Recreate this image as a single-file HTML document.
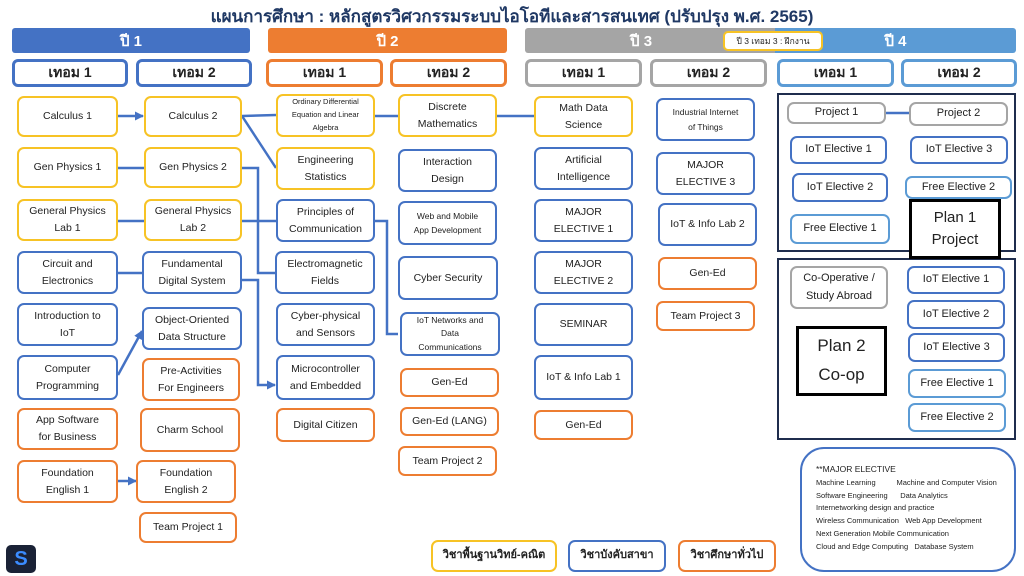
<!DOCTYPE html>
<html><head><meta charset="utf-8"><style>
*{box-sizing:border-box;margin:0;padding:0}
body{width:1024px;height:576px;background:#fff;position:relative;overflow:hidden;font-family:"Liberation Sans","DejaVu Sans",sans-serif;color:#222}
.b{position:absolute;border:2.5px solid #4472c4;border-radius:7px;display:flex;align-items:center;justify-content:center;text-align:center;font-size:10.5px;line-height:1.6;background:#fff}
.y{border-color:#f7c325}.o{border-color:#ed7d31}.g{border-color:#a5a5a5}.l{border-color:#5b9bd5}.k{border-color:#000;border-radius:0;font-size:15px}
.bar{position:absolute;top:28px;height:25px;color:#fff;font-weight:bold;font-size:15px;display:flex;align-items:center;justify-content:center;border-radius:3px}
.h{position:absolute;top:59px;height:28px;border:3px solid #4472c4;border-radius:6px;display:flex;align-items:center;justify-content:center;font-weight:bold;font-size:14px;background:#fff}
.s{font-size:8.5px;line-height:1.7}
svg{position:absolute;left:0;top:0}
</style></head><body>
<div style="position:absolute;left:0;width:1024px;top:3px;text-align:center;font-weight:bold;font-size:17px;color:#1f3864">แผนการศึกษา : หลักสูตรวิศวกรรมระบบไอโอทีและสารสนเทศ (ปรับปรุง พ.ศ. 2565)</div>
<div class="bar" style="left:12px;width:238px;background:#4472c4">ปี 1</div>
<div class="bar" style="left:268px;width:239px;background:#ed7d31">ปี 2</div>
<div class="bar" style="left:525px;width:260px;background:#a5a5a5;border-radius:3px 0 0 3px;justify-content:flex-start;padding-left:105px">ปี 3</div>
<div class="bar" style="left:775px;width:241px;background:#5b9bd5;border-radius:0 3px 3px 0">ปี 4</div>
<div style="position:absolute;left:723px;top:31px;width:100px;height:20px;border:2px solid #f7c325;border-radius:5px;background:#fff;font-size:8.5px;display:flex;align-items:center;justify-content:center">ปี 3 เทอม 3 : ฝึกงาน</div>
<div class="h" style="left:12px;width:116px">เทอม 1</div>
<div class="h" style="left:136px;width:116px">เทอม 2</div>
<div class="h" style="left:266px;width:117px;border-color:#ed7d31">เทอม 1</div>
<div class="h" style="left:390px;width:117px;border-color:#ed7d31">เทอม 2</div>
<div class="h" style="left:525px;width:117px;border-color:#a5a5a5">เทอม 1</div>
<div class="h" style="left:650px;width:117px;border-color:#a5a5a5">เทอม 2</div>
<div class="h" style="left:777px;width:117px;border-color:#5b9bd5">เทอม 1</div>
<div class="h" style="left:901px;width:116px;border-color:#5b9bd5">เทอม 2</div>

<svg width="1024" height="576">
<defs><marker id="a" markerUnits="userSpaceOnUse" markerWidth="9" markerHeight="9" refX="8" refY="4.5" orient="auto"><path d="M0,0L9,4.5L0,9z" fill="#4472c4"/></marker></defs>
<g stroke="#4472c4" stroke-width="2.5" fill="none">
<line x1="118" y1="116" x2="143" y2="116" marker-end="url(#a)"/>
<line x1="242" y1="116" x2="276" y2="115"/>
<line x1="242" y1="116" x2="276" y2="168"/>
<line x1="375" y1="116" x2="398" y2="116"/>
<line x1="497" y1="116" x2="534" y2="116"/>
<line x1="118" y1="168" x2="144" y2="168"/>
<polyline points="242,168 258,168 258,273 276,273"/>
<line x1="118" y1="221" x2="144" y2="221"/>
<line x1="242" y1="221" x2="276" y2="221"/>
<polyline points="375,221 387,221 387,334 398,334"/>
<line x1="118" y1="273" x2="144" y2="273"/>
<polyline points="242,280 258,280 258,385 275,385" marker-end="url(#a)"/>
<line x1="118" y1="375" x2="142" y2="331" marker-end="url(#a)"/>
<line x1="118" y1="481" x2="136" y2="481" marker-end="url(#a)"/>
<line x1="886" y1="113" x2="909" y2="113"/>
</g></svg>

<!-- col1 -->
<div class="b y" style="left:17px;top:96px;width:101px;height:41px">Calculus 1</div>
<div class="b y" style="left:17px;top:147px;width:101px;height:41px">Gen Physics 1</div>
<div class="b y" style="left:17px;top:199px;width:101px;height:42px">General Physics<br>Lab 1</div>
<div class="b" style="left:17px;top:251px;width:101px;height:43px">Circuit and<br>Electronics</div>
<div class="b" style="left:17px;top:303px;width:101px;height:43px">Introduction to<br>IoT</div>
<div class="b" style="left:17px;top:355px;width:101px;height:45px">Computer<br>Programming</div>
<div class="b o" style="left:17px;top:408px;width:101px;height:42px">App Software<br>for Business</div>
<div class="b o" style="left:17px;top:460px;width:101px;height:43px">Foundation<br>English 1</div>
<!-- col2 -->
<div class="b y" style="left:144px;top:96px;width:98px;height:41px">Calculus 2</div>
<div class="b y" style="left:144px;top:147px;width:98px;height:41px">Gen Physics 2</div>
<div class="b y" style="left:144px;top:199px;width:98px;height:42px">General Physics<br>Lab 2</div>
<div class="b" style="left:142px;top:251px;width:100px;height:43px">Fundamental<br>Digital System</div>
<div class="b" style="left:142px;top:307px;width:100px;height:43px">Object-Oriented<br>Data Structure</div>
<div class="b o" style="left:142px;top:358px;width:98px;height:43px">Pre-Activities<br>For Engineers</div>
<div class="b o" style="left:140px;top:408px;width:100px;height:44px">Charm School</div>
<div class="b o" style="left:136px;top:460px;width:100px;height:43px">Foundation<br>English 2</div>
<div class="b o" style="left:139px;top:512px;width:98px;height:31px">Team Project 1</div>
<!-- col3 -->
<div class="b y s" style="left:276px;top:94px;width:99px;height:43px;font-size:7.5px">Ordinary Differential<br>Equation and Linear<br>Algebra</div>
<div class="b y" style="left:276px;top:147px;width:99px;height:43px">Engineering<br>Statistics</div>
<div class="b" style="left:276px;top:199px;width:99px;height:43px">Principles of<br>Communication</div>
<div class="b" style="left:275px;top:251px;width:100px;height:43px">Electromagnetic<br>Fields</div>
<div class="b" style="left:276px;top:303px;width:99px;height:43px">Cyber-physical<br>and Sensors</div>
<div class="b" style="left:276px;top:355px;width:99px;height:45px">Microcontroller<br>and Embedded</div>
<div class="b o" style="left:276px;top:408px;width:99px;height:34px">Digital Citizen</div>
<!-- col4 -->
<div class="b y" style="left:398px;top:94px;width:99px;height:43px">Discrete<br>Mathematics</div>
<div class="b" style="left:398px;top:149px;width:99px;height:43px">Interaction<br>Design</div>
<div class="b s" style="left:398px;top:201px;width:99px;height:44px">Web and Mobile<br>App Development</div>
<div class="b" style="left:398px;top:256px;width:100px;height:44px">Cyber Security</div>
<div class="b s" style="left:400px;top:312px;width:100px;height:44px;line-height:1.6">IoT Networks and<br>Data<br>Communications</div>
<div class="b o" style="left:400px;top:368px;width:99px;height:29px">Gen-Ed</div>
<div class="b o" style="left:400px;top:407px;width:99px;height:29px">Gen-Ed (LANG)</div>
<div class="b o" style="left:398px;top:446px;width:99px;height:30px">Team Project 2</div>
<!-- col5 -->
<div class="b y" style="left:534px;top:96px;width:99px;height:41px">Math Data<br>Science</div>
<div class="b" style="left:534px;top:147px;width:99px;height:43px">Artificial<br>Intelligence</div>
<div class="b" style="left:534px;top:199px;width:99px;height:43px">MAJOR<br>ELECTIVE 1</div>
<div class="b" style="left:534px;top:251px;width:99px;height:43px">MAJOR<br>ELECTIVE 2</div>
<div class="b" style="left:534px;top:303px;width:99px;height:43px">SEMINAR</div>
<div class="b" style="left:534px;top:355px;width:99px;height:45px">IoT &amp; Info Lab 1</div>
<div class="b o" style="left:534px;top:410px;width:99px;height:30px">Gen-Ed</div>
<!-- col6 -->
<div class="b s" style="left:656px;top:98px;width:99px;height:43px">Industrial Internet<br>of Things</div>
<div class="b" style="left:656px;top:152px;width:99px;height:43px">MAJOR<br>ELECTIVE 3</div>
<div class="b" style="left:658px;top:203px;width:99px;height:43px">IoT &amp; Info Lab 2</div>
<div class="b o" style="left:658px;top:257px;width:99px;height:33px">Gen-Ed</div>
<div class="b o" style="left:656px;top:301px;width:99px;height:30px">Team Project 3</div>
<!-- year4 -->
<div style="position:absolute;left:777px;top:93px;width:239px;height:159px;border:2.5px solid #1f2d4d"></div>
<div style="position:absolute;left:777px;top:258px;width:239px;height:182px;border:2.5px solid #1f2d4d"></div>
<div class="b g" style="left:787px;top:102px;width:99px;height:22px;font-size:11px">Project 1</div>
<div class="b g" style="left:909px;top:102px;width:99px;height:24px;font-size:11px">Project 2</div>
<div class="b" style="left:790px;top:136px;width:97px;height:28px;font-size:11px">IoT Elective 1</div>
<div class="b" style="left:910px;top:136px;width:98px;height:28px;font-size:11px">IoT Elective 3</div>
<div class="b" style="left:792px;top:173px;width:96px;height:29px;font-size:11px">IoT Elective 2</div>
<div class="b l" style="left:905px;top:176px;width:107px;height:23px;font-size:11px">Free Elective 2</div>
<div class="b l" style="left:790px;top:214px;width:100px;height:30px;font-size:11px">Free Elective 1</div>
<div class="b k" style="left:909px;top:199px;width:92px;height:60px;border-width:3px;line-height:1.5">Plan 1<br>Project</div>
<div class="b g" style="left:790px;top:266px;width:98px;height:43px;font-size:11px">Co-Operative /<br>Study Abroad</div>
<div class="b k" style="left:796px;top:326px;width:91px;height:70px;border-width:3px;font-size:17px;line-height:1.7">Plan 2<br>Co-op</div>
<div class="b" style="left:907px;top:266px;width:98px;height:28px;font-size:11px">IoT Elective 1</div>
<div class="b" style="left:907px;top:300px;width:98px;height:29px;font-size:11px">IoT Elective 2</div>
<div class="b" style="left:908px;top:333px;width:97px;height:29px;font-size:11px">IoT Elective 3</div>
<div class="b l" style="left:908px;top:369px;width:98px;height:29px;font-size:11px">Free Elective 1</div>
<div class="b l" style="left:908px;top:403px;width:98px;height:29px;font-size:11px">Free Elective 2</div>
<div style="position:absolute;left:800px;top:447px;width:216px;height:125px;border:2.5px solid #4472c4;border-radius:24px;padding:14px 0 0 14px;font-size:7.5px;line-height:12.8px;white-space:pre"><span style="font-size:8.5px">**MAJOR ELECTIVE</span>
Machine Learning          Machine and Computer Vision
Software Engineering      Data Analytics
Internetworking design and practice
Wireless Communication   Web App Development
Next Generation Mobile Communication
Cloud and Edge Computing   Database System</div>
<!-- legend -->
<div class="b y" style="left:431px;top:540px;width:126px;height:32px;font-weight:bold;font-size:11px">วิชาพื้นฐานวิทย์-คณิต</div>
<div class="b" style="left:568px;top:540px;width:98px;height:32px;font-weight:bold;font-size:11px">วิชาบังคับสาขา</div>
<div class="b o" style="left:678px;top:540px;width:98px;height:32px;font-weight:bold;font-size:11px">วิชาศึกษาทั่วไป</div>
<div style="position:absolute;left:6px;top:545px;width:30px;height:28px;background:#1a2236;border-radius:5px;color:#3b8cff;font-weight:bold;font-size:20px;display:flex;align-items:center;justify-content:center">S</div>
</body></html>
